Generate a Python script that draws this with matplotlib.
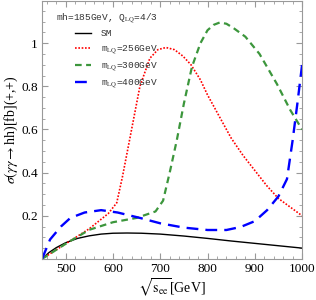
import numpy as np
import matplotlib
matplotlib.use("Agg")
import matplotlib.pyplot as plt
from matplotlib.ticker import MultipleLocator

# values
sm_x = [450, 465, 480, 500, 525, 550, 575, 600, 630, 660, 700, 750, 800, 850, 900, 950, 1000]
sm_y = [0.0, 0.03, 0.052, 0.075, 0.095, 0.107, 0.115, 0.119, 0.12, 0.119, 0.115, 0.106, 0.095, 0.083, 0.072, 0.061, 0.05]

lq256_x = [450, 500, 550, 590, 608, 620, 635, 657, 678, 695, 712, 730, 748, 765, 785, 800, 825, 850, 875, 900, 925, 950, 975, 1000]
lq256_y = [0.0, 0.07, 0.14, 0.21, 0.26, 0.38, 0.55, 0.80, 0.93, 0.97, 0.98, 0.97, 0.94, 0.90, 0.83, 0.76, 0.66, 0.56, 0.48, 0.41, 0.34, 0.28, 0.24, 0.20]

lq300_x = [450, 500, 550, 600, 650, 690, 706, 720, 735, 750, 767, 785, 800, 813, 826, 840, 855, 880, 910, 947, 975, 1000]
lq300_y = [0.0, 0.07, 0.135, 0.17, 0.19, 0.22, 0.27, 0.40, 0.55, 0.72, 0.89, 1.0, 1.06, 1.085, 1.096, 1.09, 1.07, 1.03, 0.95, 0.81, 0.69, 0.60]

lq400_x = [450, 467, 490, 510, 540, 575, 610, 657, 700, 750, 800, 840, 870, 900, 926, 950, 968, 980, 990, 1000]
lq400_y = [0.0, 0.09, 0.15, 0.19, 0.215, 0.226, 0.215, 0.19, 0.165, 0.145, 0.134, 0.134, 0.148, 0.175, 0.226, 0.29, 0.37, 0.55, 0.72, 0.90]

plt.rcParams['mathtext.fontset'] = 'stix'

fig = plt.figure(figsize=(3.16, 3.0), dpi=100)
ax = fig.add_axes([0.133, 0.137, 0.823, 0.86])

ax.plot(sm_x, sm_y, color='black', lw=1.0, label='SM')
ax.plot(lq256_x, lq256_y, color='#ff0000', lw=1.2, linestyle=(0, (1, 1)),
        label=r'm$_{\rm LQ}$=256GeV')
ax.plot(lq300_x, lq300_y, color='#3c963c', lw=1.6, linestyle=(0, (3, 2)),
        label=r'm$_{\rm LQ}$=300GeV')
ax.plot(lq400_x, lq400_y, color='#0000ff', lw=1.7, linestyle=(0, (5, 3)),
        label=r'm$_{\rm LQ}$=400GeV')

ax.set_xlim(450, 1000)
ax.set_ylim(0, 1.196)
ax.set_xticks([500, 600, 700, 800, 900, 1000])
ax.set_yticks([0.2, 0.4, 0.6, 0.8, 1.0])
ax.set_yticklabels(['0.2', '0.4', '0.6', '0.8', '1'])
ax.xaxis.set_minor_locator(MultipleLocator(20))
ax.yaxis.set_minor_locator(MultipleLocator(0.05))
ax.tick_params(which='both', direction='in', top=True, right=True, color='#999999',
               labelsize=9.5, pad=3)
ax.tick_params(which='major', length=4)
ax.tick_params(which='minor', length=2)
for lab in ax.get_xticklabels() + ax.get_yticklabels():
    lab.set_family('Liberation Serif')
for s in ax.spines.values():
    s.set_color('#999999')

ax.set_xlabel(r'$\sqrt{\mathrm{s_{ee}}}$[GeV]', fontsize=10, family='Liberation Serif', labelpad=1)
ax.set_ylabel(r'$\sigma(\gamma\gamma\rightarrow$hh)[fb](+,+)', fontsize=10,
              family='Liberation Serif', labelpad=1)

# legend title as plain text, entries indented under it
ax.text(0.055, 0.935, r'mh=185GeV, Q$_{\rm LQ}$=4/3', transform=ax.transAxes,
        family='Liberation Mono', fontsize=6.8, color='#333333', va='center')
leg = ax.legend(loc='upper left', bbox_to_anchor=(0.1, 0.915), frameon=False,
                handlelength=1.7, handletextpad=1.1,
                prop={'family': 'Liberation Mono', 'size': 6.8},
                labelspacing=0.45, borderpad=0.2)
for t in leg.get_texts():
    t.set_color('#333333')

fig.savefig('out.png', dpi=100)
